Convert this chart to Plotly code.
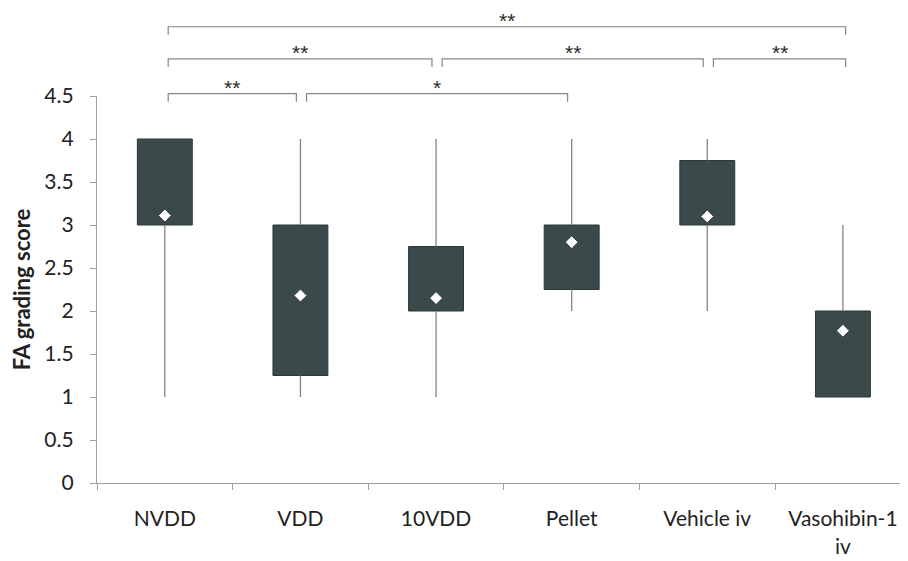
import plotly.graph_objects as go

categories = ["NVDD", "VDD", "10VDD", "Pellet", "Vehicle iv", "Vasohibin-1<br>iv"]
q1 = [3.0, 1.25, 2.0, 2.25, 3.0, 1.0]
q3 = [4.0, 3.0, 2.75, 3.0, 3.75, 2.0]
whisker_low = [1.0, 1.0, 1.0, 2.0, 2.0, 1.0]
whisker_high = [4.0, 4.0, 4.0, 4.0, 4.0, 3.0]
means = [3.11, 2.18, 2.15, 2.8, 3.1, 1.77]

y_tickvals = [0, 0.5, 1, 1.5, 2, 2.5, 3, 3.5, 4, 4.5]
y_ticktext = ["0", "0.5", "1", "1.5", "2", "2.5", "3", "3.5", "4", "4.5"]

# significance comparisons: (left group, right group, label, level)
comp_left = [0, 1, 0, 2, 4, 0]
comp_right = [1, 3, 2, 4, 5, 5]
comp_label = ["**", "*", "**", "**", "**", "**"]
comp_level = [0, 0, 1, 1, 1, 2]

FONT = "Lato"
BOX_COLOR = "#3a4949"
WHISK_COLOR = "#858585"
AXIS_COLOR = "#a0a0a0"

fig = go.Figure()

# whiskers (below and above box)
wx, wy = [], []
for c, lo, a, b, hi in zip(categories, whisker_low, q1, q3, whisker_high):
    wx += [c, c, None, c, c, None]
    wy += [lo, a, None, b, hi, None]
fig.add_trace(go.Scatter(x=wx, y=wy, mode="lines",
                         line=dict(color=WHISK_COLOR, width=1.3),
                         hoverinfo="skip", showlegend=False))

# boxes as floating bars
fig.add_trace(go.Bar(x=categories, y=[b - a for a, b in zip(q1, q3)], base=q1,
                     width=0.405, marker=dict(color=BOX_COLOR,
                                              line=dict(color="#2c3838", width=1)),
                     showlegend=False))

# means
fig.add_trace(go.Scatter(x=categories, y=means, mode="markers",
                         marker=dict(symbol="diamond", size=10, color="white",
                                     line=dict(color="#2c3838", width=1)),
                         showlegend=False))

# significance brackets
level_y = [1.006, 1.096, 1.179]
drop = 0.021
n = len(categories)
shapes = []
annotations = []
for L, R, lab, lev in zip(comp_left, comp_right, comp_label, comp_level):
    shares_left = any(r == L and lv == lev for r, lv in zip(comp_right, comp_level))
    x0 = L + (0.045 if shares_left else 0.025)
    x1 = R + (-0.03 if R != n - 1 else 0.02)
    y = level_y[lev]
    shapes.append(dict(type="path", xref="x", yref="paper",
                       path=f"M {x0},{y - drop} L {x0},{y} L {x1},{y} L {x1},{y - drop}",
                       line=dict(color=WHISK_COLOR, width=1.2)))
    annotations.append(dict(x=(x0 + x1) / 2, y=y, xref="x", yref="paper",
                            text=lab, showarrow=False, yanchor="bottom",
                            yshift=-7,
                            font=dict(family="Liberation Sans", size=21,
                                      color="#2a2a2a")))

fig.update_layout(
    width=908, height=561,
    margin=dict(l=89, r=8, t=88, b=86),
    paper_bgcolor="white", plot_bgcolor="white",
    font=dict(family=FONT, size=21, color="#222"),
    shapes=shapes, annotations=annotations,
    xaxis=dict(type="category", range=[-0.5, 5.48],
               showline=True, linecolor=AXIS_COLOR, linewidth=1.2,
               ticks="outside", tickson="boundaries", ticklen=6,
               tickcolor=AXIS_COLOR, showgrid=False, zeroline=False,
               ticklabelstandoff=17,
               tickfont=dict(family=FONT, size=21, color="#222")),
    yaxis=dict(range=[0, 4.5], tickvals=y_tickvals, ticktext=y_ticktext,
               showline=True, linecolor=AXIS_COLOR, linewidth=1.2,
               ticks="outside", ticklen=6, tickcolor=AXIS_COLOR,
               showgrid=False, zeroline=False,
               ticklabelstandoff=12,
               tickfont=dict(family=FONT, size=21, color="#222")),
)
fig.update_yaxes(title=dict(text="<b>FA grading score</b>",
                            font=dict(family=FONT, size=22, color="#222"),
                            standoff=9))

fig.write_html("out.html")
